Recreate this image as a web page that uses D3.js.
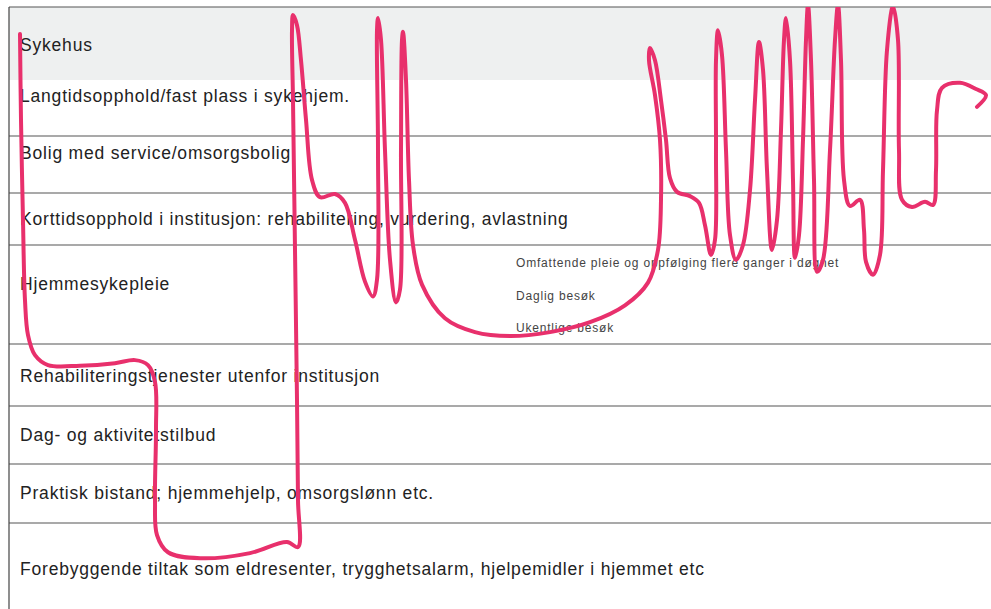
<!DOCTYPE html>
<html><head><meta charset="utf-8">
<script src="https://cdn.jsdelivr.net/npm/d3@7"></script>
<style>html,body{margin:0;padding:0;background:#fff;} svg{display:block;}</style>
</head><body><svg id="chart" width="991" height="609"></svg>
<script>
// ---------- DATA ----------
const categories = [
  "Sykehus",
  "Langtidsopphold/fast plass i sykehjem.",
  "Bolig med service/omsorgsbolig",
  "Korttidsopphold i institusjon: rehabilitering, vurdering, avlastning",
  "Hjemmesykepleie",
  "Rehabiliteringstjenester utenfor institusjon",
  "Dag- og aktivitetstilbud",
  "Praktisk bistand; hjemmehjelp, omsorgslønn etc.",
  "Forebyggende tiltak som eldresenter, trygghetsalarm, hjelpemidler i hjemmet etc"
];
const subCategories = [
  "Omfattende pleie og oppfølging flere ganger i døgnet",
  "Daglig besøk",
  "Ukentlige besøk"
];
// patient path: time (days) and care level (0 = Sykehus ... 9 = bottom)
const pathDays = [5,5.5,6.5,7.5,9,12.5,19,35,52.5,62.5,69,72.5,73,72.5,73.5,79,95,120,138.5,144,144,143.5,142.5,141.5,141,141.5,143.5,145.5,148,151,155,162.5,167.5,172.5,177.5,181.5,183.5,184,183.5,184,185.5,187.5,190,193,195,195.5,196,196.5,198,199.5,201.5,206,217.5,232.5,250,270,290,307.5,319,324,325.5,325,322.5,319.5,320,322.5,325.5,328,330,333.5,340,344.5,347.5,350.5,352.5,353,353,354,356,358,360,363,366.5,370,372.5,374.5,376.5,378.5,381,383.5,385.5,387,388,390,391.5,392.5,394.5,396.5,398,399,400.5,402,403.5,406.5,410,412.5,414,415.5,417,420,425,427,428,431.5,435,436.5,438.5,441.5,444,444.5,446,451,457.5,461.5,463,463.5,466,475,483,488,483.5];
const pathLevel = [0.37,1.71,3.52,4.56,4.91,5.18,5.34,5.35,5.31,5.26,5.34,5.61,6.41,7.61,8.14,8.34,8.41,8.35,8.22,8.28,7.61,5.90,4.05,1.36,0.32,0.11,0.25,0.73,1.71,2.77,3.08,3.02,3.19,3.90,4.37,4.52,4.35,2.25,0.32,0.15,0.45,2.25,4.15,4.58,4.45,2.25,0.45,0.34,1.0,2.77,4.0,4.40,4.74,4.88,4.92,4.88,4.78,4.61,4.38,4.05,3.13,2.07,1.27,0.73,0.56,0.73,1.36,2.07,2.74,2.98,3.06,3.19,3.62,4.10,3.90,2.25,0.73,0.32,0.66,2.25,3.81,4.15,4.0,2.95,1.36,0.48,0.86,2.60,4.05,3.52,1.89,0.45,0.15,0.73,2.77,4.13,3.81,2.07,0.45,-0.03,0.73,2.77,4.27,4.15,2.25,0.45,-0.03,0.73,2.77,3.25,3.13,3.71,4.17,4.30,4.10,2.60,0.59,-0.01,0.45,2.25,3.13,3.27,3.17,3.23,2.60,1.54,1.14,1.05,1.16,1.27,1.48];

// ---------- LAYOUT ----------
const W = 991, H = 609, left = 9;
const rowEdges = [7, 80, 136, 193, 245, 344, 406, 464, 523, 609];
const labelShift = [1.5, -12, -11.5, 0, -10.5, 1, 0, -0.5, 3];
const y = d3.scaleLinear().domain(d3.range(rowEdges.length)).range(rowEdges);
const x = d3.scaleLinear().domain([0, 490]).range([10, 990]);

const svg = d3.select("#chart");
const font = "'Liberation Sans', Arial, Helvetica, sans-serif";

svg.append("rect").attr("x", left).attr("y", y(0)).attr("width", W - left).attr("height", y(1) - y(0)).attr("fill", "#eef0f0");

// separators
svg.append("g").selectAll("line").data([0, 2, 3, 4, 5, 6, 7, 8]).join("line")
  .attr("x1", left).attr("x2", W).attr("y1", d => y(d)).attr("y2", d => y(d))
  .attr("stroke", "#555").attr("stroke-width", 1.2);
svg.append("line").attr("x1", left).attr("x2", left).attr("y1", y(0)).attr("y2", H)
  .attr("stroke", "#444").attr("stroke-width", 1.2);

// labels
svg.append("g").selectAll("text").data(categories).join("text")
  .attr("x", 20)
  .attr("y", (d, i) => (y(i) + y(i + 1)) / 2 + labelShift[i])
  .attr("dy", "0.35em")
  .attr("font-family", font).attr("font-size", 17.5).attr("letter-spacing", 0.8).attr("fill", "#222")
  .text(d => d);

svg.append("g").selectAll("text").data(subCategories).join("text")
  .attr("x", 516)
  .attr("y", (d, i) => y(4 + 0.18 + i * 0.33))
  .attr("dy", "0.35em")
  .attr("font-family", font).attr("font-size", 12).attr("letter-spacing", 0.8).attr("fill", "#444")
  .text(d => d);

// clip
svg.append("clipPath").attr("id", "clip").append("rect")
  .attr("x", left).attr("y", y(0)).attr("width", W - left).attr("height", H - y(0));

const pts = pathDays.map((d, i) => [d, pathLevel[i]]);
const line = d3.line().x(d => x(d[0])).y(d => y(d[1])).curve(d3.curveCatmullRom.alpha(0.5));
svg.append("path").attr("clip-path", "url(#clip)").attr("d", line(pts))
  .attr("fill", "none").attr("stroke", "#e8306c").attr("stroke-width", 4)
  .attr("stroke-linejoin", "round").attr("stroke-linecap", "round");
</script></body></html>
